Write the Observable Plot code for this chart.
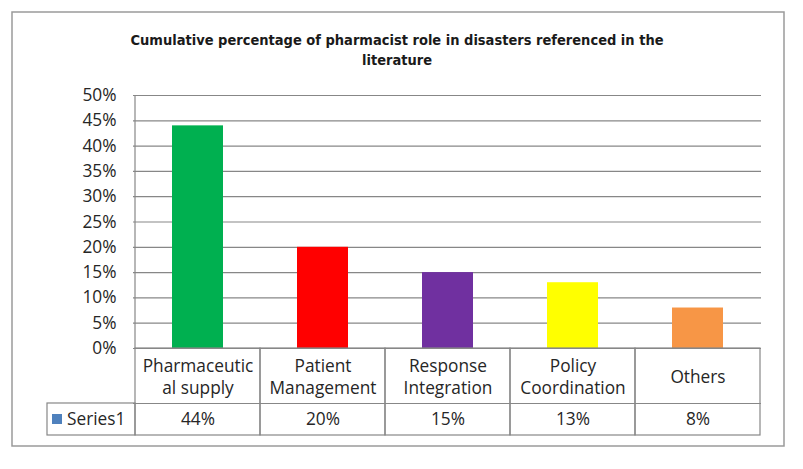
<!DOCTYPE html>
<html><head><meta charset="utf-8">
<script src="https://cdn.jsdelivr.net/npm/d3@7"></script>
<script src="https://cdn.jsdelivr.net/npm/@observablehq/plot@0.6"></script>
<style>
html,body{margin:0;padding:0;background:#fff;}
#chart{position:relative;width:803px;height:469px;}
</style>
</head><body><div id="chart"></div>
<script>
const titleText = "Cumulative percentage of pharmacist role in disasters referenced in the\nliterature";
const categories = ["Pharmaceutical supply", "Patient Management", "Response Integration", "Policy Coordination", "Others"];
const headerLabels = ["Pharmaceutic\nal supply", "Patient\nManagement", "Response\nIntegration", "Policy\nCoordination", "Others"];
const values = [0.44, 0.20, 0.15, 0.13, 0.08];
const valueLabels = ["44%", "20%", "15%", "13%", "8%"];
const barColors = ["#00B050", "#FF0000", "#7030A0", "#FFFF00", "#F79646"];
const yTicks = [0, 0.05, 0.10, 0.15, 0.20, 0.25, 0.30, 0.35, 0.40, 0.45, 0.50];
const seriesName = "Series1";
const seriesColor = "#4F81BD";

const data = categories.map((c, i) => ({cat: c, value: values[i], color: barColors[i], header: headerLabels[i], label: valueLabels[i]}));

const W = 803, H = 469;
const mL = 133, mR = 42, mT = 95, mB = 121;
const pxPerUnit = (H - mT - mB) / 0.5;
const yRow1 = -55 / pxPerUnit;   // bottom of header row
const yRow2 = -87 / pxPerUnit;   // bottom of value row
const gridColor = "#878787";
const textColor = "#262626";
const font = "'Open Sans', 'DejaVu Sans', sans-serif";
const fs = 17.3;

const plot = Plot.plot({
  width: W, height: H,
  marginLeft: mL, marginRight: mR, marginTop: mT, marginBottom: mB,
  style: {fontFamily: font, fontSize: fs + "px", color: textColor, background: "transparent", overflow: "visible"},
  x: {domain: categories, padding: 0, axis: null},
  y: {domain: [0, 0.5], label: null},
  color: {type: "identity"},
  marks: [
    Plot.axisY({ticks: yTicks, tickFormat: d => Math.round(d * 100) + "%", tickSize: 0, tickPadding: 17, fontSize: fs, fill: textColor, label: null}),
    Plot.ruleY(yTicks, {stroke: gridColor, strokeWidth: 1.2}),
    Plot.barY(data, {x: "cat", y: "value", fill: "color", insetLeft: 37, insetRight: 37}),
    Plot.rect(data, {x: "cat", y1: 0, y2: yRow2, fill: "none", stroke: gridColor, strokeWidth: 1.2}),
    Plot.ruleY([yRow1], {stroke: gridColor, strokeWidth: 1.2}),
    Plot.text(data, {x: "cat", y: (yRow1) / 2, text: "header", lineAnchor: "middle", lineHeight: 1.28, fill: textColor, fontSize: fs}),
    Plot.text(data, {x: "cat", y: (yRow1 + yRow2) / 2, text: "label", lineAnchor: "middle", fill: textColor, fontSize: fs})
  ]
});

const svg = d3.select(plot);
const ys = plot.scale("y");
const xs = plot.scale("x");
const x0 = xs.apply(categories[0]);
const yTop = ys.apply(0.5), yZero = ys.apply(0), yR1 = ys.apply(yRow1), yR2 = ys.apply(yRow2);
const cellLeft = 47;
// left axis line
svg.append("line").attr("x1", x0).attr("x2", x0).attr("y1", yTop).attr("y2", yZero)
  .attr("stroke", gridColor).attr("stroke-width", 1.2);
// series cell
svg.append("rect").attr("x", cellLeft).attr("y", yR1).attr("width", x0 - cellLeft).attr("height", yR2 - yR1)
  .attr("fill", "none").attr("stroke", gridColor).attr("stroke-width", 1.2);
svg.append("rect").attr("x", cellLeft + 5).attr("y", (yR1 + yR2) / 2 - 5).attr("width", 10).attr("height", 10).attr("fill", seriesColor);
svg.append("text").attr("x", cellLeft + 20).attr("y", (yR1 + yR2) / 2).attr("dy", "0.35em")
  .attr("text-anchor", "start")
  .attr("fill", textColor).attr("font-size", fs).attr("font-family", font).text(seriesName);
// outer chart border
svg.insert("rect", ":first-child").attr("x", 12).attr("y", 12).attr("width", 772).attr("height", 434)
  .attr("fill", "#fff").attr("stroke", "#9a9a9a").attr("stroke-width", 1.5);
// title
const tl = titleText.split("\n");
const tt = svg.append("text").attr("text-anchor", "middle").attr("font-family", "'Liberation Sans Narrow', 'DejaVu Sans Condensed', sans-serif")
  .attr("font-weight", "bold").attr("font-size", 14.5).attr("fill", "#1a1a1a");
tl.forEach((s, i) => tt.append("tspan").attr("x", 397).attr("y", 45 + i * 20).text(s));

document.getElementById("chart").appendChild(plot);
</script>
</body></html>
